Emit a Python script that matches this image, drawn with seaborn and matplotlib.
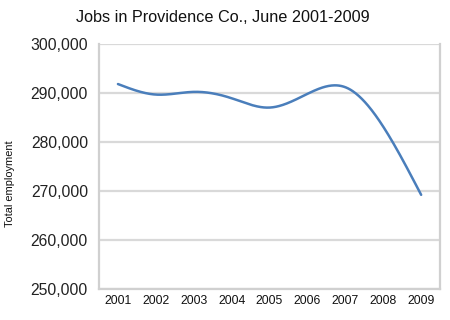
import numpy as np
import pandas as pd
import matplotlib
matplotlib.use("Agg")
import matplotlib.pyplot as plt
import seaborn as sns
from matplotlib.ticker import FuncFormatter, FixedLocator

years = ["2001", "2002", "2003", "2004", "2005", "2006", "2007", "2008", "2009"]
employment = [291800, 289650, 290200, 288900, 287000, 289800, 291150, 283100, 269200]
y_ticks = [250000, 260000, 270000, 280000, 290000, 300000]
title = "Jobs in Providence Co., June 2001-2009"
y_label = "Total employment"

sns.set_theme(style="white")
plt.rcParams['font.family'] = ['Liberation Sans', 'DejaVu Sans']

# smooth curve (natural cubic spline) for rendering only
def natural_spline(xk, yk, n=400):
    xk = np.asarray(xk, float); yk = np.asarray(yk, float)
    m = len(xk); h = np.diff(xk)
    A = np.zeros((m, m)); b = np.zeros(m)
    A[0, 0] = A[-1, -1] = 1
    for i in range(1, m - 1):
        A[i, i - 1] = h[i - 1]; A[i, i] = 2 * (h[i - 1] + h[i]); A[i, i + 1] = h[i]
        b[i] = 3 * ((yk[i + 1] - yk[i]) / h[i] - (yk[i] - yk[i - 1]) / h[i - 1])
    c = np.linalg.solve(A, b)
    xs = np.linspace(xk[0], xk[-1], n)
    idx = np.clip(np.searchsorted(xk, xs) - 1, 0, m - 2)
    dx = xs - xk[idx]
    bb = (yk[idx + 1] - yk[idx]) / h[idx] - h[idx] * (2 * c[idx] + c[idx + 1]) / 3
    dd = (c[idx + 1] - c[idx]) / (3 * h[idx])
    ys = yk[idx] + bb * dx + c[idx] * dx ** 2 + dd * dx ** 3
    return xs, ys

pos = np.arange(len(years))
xs, ys = natural_spline(pos, employment)
df = pd.DataFrame({"x": xs, "y": ys})

fig = plt.figure(figsize=(4.5, 3.2), dpi=100)
ax = fig.add_axes([0.22, 0.097, 0.758, 0.766])
sns.lineplot(data=df, x="x", y="y", ax=ax, color="#4a7ebb", linewidth=1.8)

ax.set_xlim(-0.5, len(years) - 0.5)
ax.set_ylim(y_ticks[0], y_ticks[-1])
ax.yaxis.set_major_locator(FixedLocator(y_ticks))
ax.yaxis.set_major_formatter(FuncFormatter(lambda v, p: f"{int(v):,}"))
ax.set_xticks(pos)
ax.set_xticklabels(years, fontsize=8.8, color="#111111")
ax.set_xticks(np.arange(-0.5, len(years)), minor=True)
ax.tick_params(axis="x", which="major", length=0, pad=4)
ax.tick_params(axis="x", which="minor", length=4, color="#cccccc", width=1)
ax.tick_params(axis="y", which="major", length=4, color="#cccccc", width=1, labelsize=11.3, labelcolor="#222222", pad=4)
ax.grid(axis="y", color="#d9d9d9", linewidth=1.6)
ax.set_axisbelow(True)
for s in ["left", "bottom", "right"]:
    ax.spines[s].set_color("#d0d0d0")
    ax.spines[s].set_linewidth(1.6)
ax.spines["top"].set_visible(False)
ax.set_xlabel("")
ax.set_ylabel(y_label, fontsize=7.9, color="#111111")
ax.yaxis.set_label_coords(-0.245, 0.43)
fig.text(0.496, 0.944, title, ha="center", va="center", fontsize=11.7, color="#111111")

fig.savefig("out.png", dpi=100)
